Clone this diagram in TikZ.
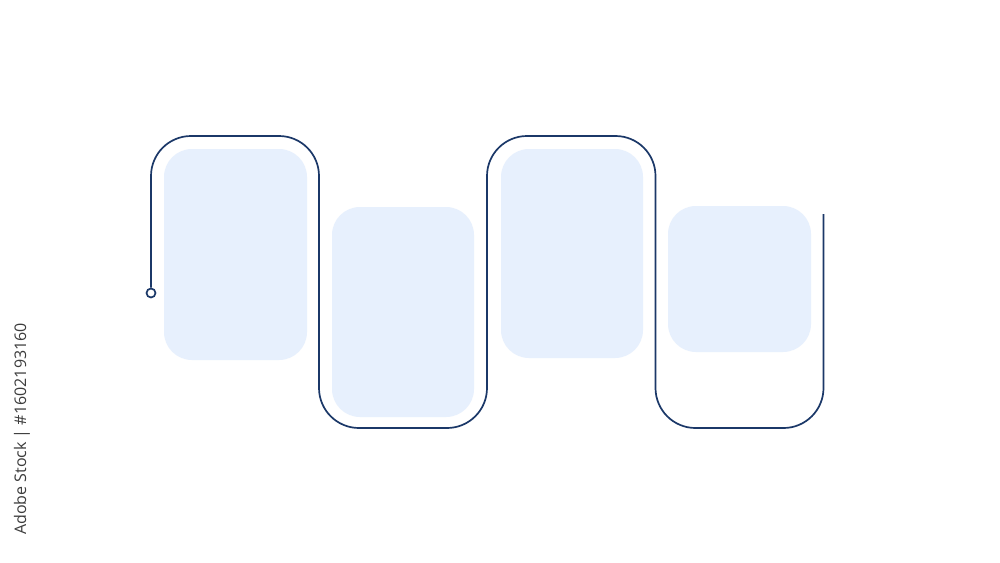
\documentclass[tikz,border=0pt]{standalone}
\usepackage{fontspec}
\newfontfamily\wmfont{Open Sans}
\definecolor{navy}{HTML}{1B3868}
\definecolor{boxfill}{HTML}{E7F0FD}
\definecolor{wmgray}{HTML}{3C3C3C}
\begin{document}
\begin{tikzpicture}[x=1pt,y=-1pt,
  card/.style={draw=none,fill=boxfill,rounded corners=28pt,inner sep=0pt},
  wave/.style={draw=navy,line width=1.7pt,rounded corners=40pt},
  startdot/.style={circle,draw=navy,line width=1.7pt,fill=white,minimum size=9pt,inner sep=0pt}]
\useasboundingbox (0,0) rectangle (1000,562);
\fill[white] (0,0) rectangle (1000,562);
\node[card,minimum width=143pt,minimum height=211pt] (b1) at (235.5,254.5) {};
\node[card,minimum width=142pt,minimum height=210pt] (b2) at (403,312) {};
\node[card,minimum width=142pt,minimum height=209pt] (b3) at (572,253.5) {};
\node[card,minimum width=143pt,minimum height=146pt] (b4) at (739.5,279) {};
\coordinate (endpt) at (823.5,214);
\node[startdot] (start) at (151,293) {};
\draw[wave] (start.north) -- (151,136) -- (319,136) -- (319,428) -- (487,428) -- (487,136) -- (655.5,136) -- (655.5,428) -- (823.5,428) -- (endpt);
\node[rotate=90,text=wmgray,font=\wmfont\fontsize{16}{19}\selectfont,inner sep=0pt] (wm) at (22,429) {Adobe Stock | \#1602193160};
\end{tikzpicture}
\end{document}
